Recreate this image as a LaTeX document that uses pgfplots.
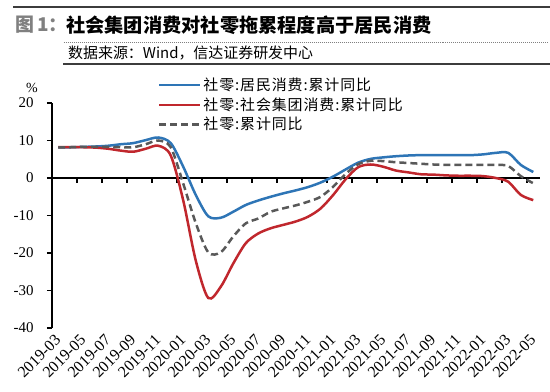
\documentclass[border=0pt]{standalone}
\usepackage{fontspec}
\setmainfont{Liberation Serif}
\newfontfamily\cjk{Noto Sans CJK SC}
\newfontfamily\cjkl[LetterSpace=6]{Noto Sans CJK SC}
\usepackage{pgfplots}
\usepackage{pgfplotstable}
\pgfplotsset{compat=1.18}
\definecolor{cblue}{RGB}{46,117,182}
\definecolor{cred}{RGB}{192,39,45}
\definecolor{cgray}{RGB}{89,89,89}
\definecolor{rulec}{RGB}{60,60,60}

\pgfplotstableread{
x b r g
0 8.2 8.2 8.2
1 8.2 8.2 8.2
2 8.3 8.2 8.3
3 8.4 8.1 8.3
4 8.6 7.8 8.3
5 9.0 7.3 8.2
6 9.3 7.0 8.2
7 10.1 7.8 9.0
8 10.8 8.6 10.0
9 9.3 6.0 8.2
10 3.0 -6.0 -1.5
11 -4.5 -22.0 -12.0
12 -10.2 -32.0 -19.8
13 -10.6 -29.0 -19.8
14 -9.0 -22.8 -15.6
15 -7.2 -17.4 -12.1
16 -6.0 -14.8 -10.8
17 -5.0 -13.4 -9.0
18 -4.1 -12.5 -8.1
19 -3.3 -11.6 -7.3
20 -2.4 -10.3 -6.3
21 -1.2 -8.1 -5.0
22 0.4 -4.5 -2.3
23 2.3 -0.3 1.1
24 4.1 2.9 3.7
25 5.1 3.6 4.6
26 5.5 3.0 4.5
27 5.8 2.0 4.2
28 6.0 1.5 4.0
29 6.1 1.0 3.8
30 6.1 0.9 3.6
31 6.1 0.7 3.5
32 6.1 0.6 3.5
33 6.1 0.6 3.5
34 6.3 0.5 3.5
35 6.7 0.0 3.5
36 6.7 -1.0 3.2
37 3.5 -4.5 0.5
38 1.6 -5.9 -1.4
}\datatable

\begin{document}
\begin{tikzpicture}
\useasboundingbox (0bp,0bp) rectangle (550bp,392bp);
% header rules as boxes
\node[anchor=west, inner sep=0, outer sep=0] at (13bp,385bp) {\color{rulec}\rule{537bp}{1.8bp}};
\node[anchor=west, inner sep=0, outer sep=0] at (63bp,350bp) {\color{gray}\hbox to 487bp{\leaders\hbox to 2bp{\hss\rule{1bp}{0.8bp}\hss}\hfill}};
\node[anchor=west, inner sep=0, outer sep=0] at (63bp,328bp) {\color{rulec}\rule{487bp}{1.8bp}};
% header texts
\node[anchor=west, inner sep=0, text=black!50] at (15bp,367bp) {\cjk\bfseries\fontsize{19}{21}\selectfont 图\,1：};
\node[anchor=west, inner sep=0] at (66bp,367bp) {\cjk\bfseries\fontsize{19.3}{21}\selectfont 社会集团消费对社零拖累程度高于居民消费};
\node[anchor=west, inner sep=0] at (68bp,339bp) {\cjk\fontsize{15}{17}\selectfont 数据来源：Wind，信达证券研发中心};
\node[font=\fontsize{14}{14}\selectfont] at (32bp,304bp) {\%};

\begin{axis}[
  at={(52bp,64bp)}, anchor=south west, scale only axis,
  width=487.5bp, height=225bp,
  xmin=-0.5, xmax=38.5, ymin=-40, ymax=20,
  axis y line*=left, axis x line*=bottom,
  x axis line style={draw=none},
  xtick={0,2,...,38},
  xticklabels={2019-03,2019-05,2019-07,2019-09,2019-11,2020-01,2020-03,2020-05,2020-07,2020-09,2020-11,2021-01,2021-03,2021-05,2021-07,2021-09,2021-11,2022-01,2022-03,2022-05},
  xtick style={draw=none},
  ytick={-40,-30,-20,-10,0,10,20},
  yticklabels={-40,-30,-20,-10,0,10,20},
  tick align=outside, major tick length=5bp,
  y axis line style={line width=1.3bp, black},
  ytick style={line width=1.3bp, black},
  xticklabel style={rotate=45, anchor=east, yshift=-3bp, font=\fontsize{16}{16}\selectfont},
  yticklabel style={xshift=-10bp, font=\fontsize{15}{15}\selectfont},
  legend cell align=left,
  legend style={at={(rel axis cs:0.217,1.12)}, anchor=north west, draw=none, fill=none,
    inner sep=0pt, font=\cjkl\fontsize{15}{16}\selectfont, row sep=1.5bp},
  legend image code/.code={\draw[#1] (0bp,0bp) -- (41bp,0bp);},
  clip=false,
]
% zero line and ticks
\draw[line width=1.3bp] (axis cs:-0.5,0) -- (axis cs:38.5,0);
\pgfplotsinvokeforeach{-0.5,1.5,3.5,5.5,7.5,9.5,11.5,13.5,15.5,17.5,19.5,21.5,23.5,25.5,27.5,29.5,31.5,33.5,35.5,37.5}{
  \draw[line width=1.3bp] (axis cs:#1,0) -- ([yshift=-5bp]axis cs:#1,0);
}
\addplot[cblue, line width=2.5bp, smooth, tension=0.5] table[x=x,y=b] {\datatable};
\addlegendentry{社零:居民消费:累计同比}
\addplot[cred, line width=2.5bp, smooth, tension=0.5] table[x=x,y=r] {\datatable};
\addlegendentry{社零:社会集团消费:累计同比}
\addplot[cgray, line width=2.5bp, dash pattern=on 7bp off 4bp, smooth, tension=0.5] table[x=x,y=g] {\datatable};
\addlegendentry{社零:累计同比}
\end{axis}
\end{tikzpicture}
\end{document}
